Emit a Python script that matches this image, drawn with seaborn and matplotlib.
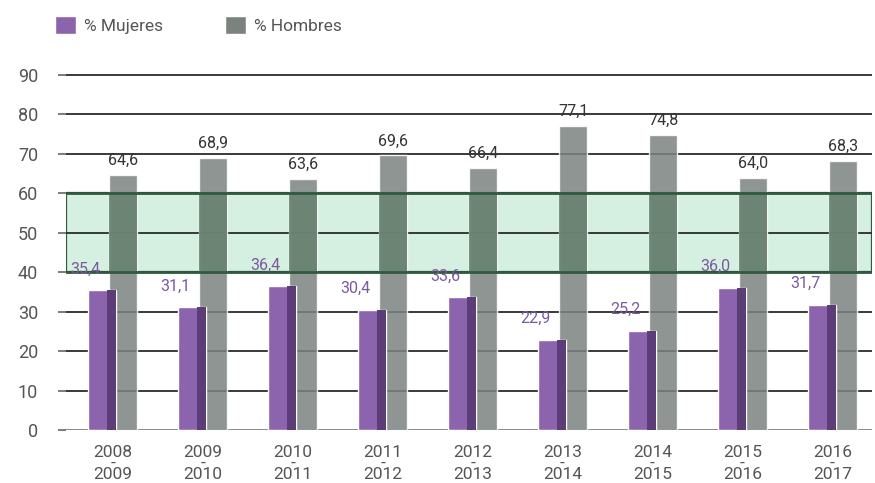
import pandas as pd
import seaborn as sns
import matplotlib.pyplot as plt
from matplotlib.patches import Rectangle

# Academic years (first / second year) and percentage of women / men
periodos = ["2008\n-\n2009", "2009\n-\n2010", "2010\n-\n2011", "2011\n-\n2012",
            "2012\n-\n2013", "2013\n-\n2014", "2014\n-\n2015", "2015\n-\n2016",
            "2016\n-\n2017"]
mujeres = [35.4, 31.1, 36.4, 30.4, 33.6, 22.9, 25.2, 36.0, 31.7]
hombres = [64.6, 68.9, 63.6, 69.6, 66.4, 77.1, 74.8, 64.0, 68.3]
series = ["% Mujeres", "% Hombres"]
yticks = [0, 10, 20, 30, 40, 50, 60, 70, 80, 90]
banda = (40, 60)  # balanced-presence zone

PURPLE = "#8c64ad"
PURPLE_DARK = "#5c3d78"
GRAY = "#7b837f"
GRAY_IN_BAND = "#66826f"
MINT = "#d5efe0"
BAND_EDGE = "#2f5a3f"
GRID = "#2a2a2a"
TEXT = "#555555"

df = pd.DataFrame({
    "periodo": periodos * 2,
    "serie": [series[0]] * len(periodos) + [series[1]] * len(periodos),
    "valor": mujeres + hombres,
})

sns.set_theme(style="white")
plt.rcParams["font.family"] = ["Roboto", "DejaVu Sans"]

fig = plt.figure(figsize=(8.75, 4.83), dpi=100)
ax = fig.add_axes([66 / 875, 1 - 430 / 483, (872 - 66) / 875, (430 - 73) / 483])

sns.barplot(data=df, x="periodo", y="valor", hue="serie", hue_order=series,
            palette=[PURPLE, GRAY], width=0.47, saturation=1, errorbar=None,
            ax=ax, zorder=3)

ax.set_ylim(0, 90.5)
ax.set_xlim(-0.52, 8.44)
ax.set_yticks(yticks)
ax.set_xlabel("")
ax.set_ylabel("")
for s in ax.spines.values():
    s.set_visible(False)

# grid lines and the 40-60 band
for y in yticks[1:]:
    ax.axhline(y, color=GRID, lw=1.3, zorder=2)
ax.axhline(0, color="#8a8a8a", lw=1.4, zorder=2)
ax.axhspan(banda[0], banda[1], facecolor=MINT, edgecolor=BAND_EDGE, lw=1.6, zorder=1)

bars_m, bars_h = ax.containers[0], ax.containers[1]

# widen the bars so the pair overlaps slightly
new_w = 0.31
for p in list(bars_m) + list(bars_h):
    c = p.get_x() + p.get_width() / 2
    p.set_width(new_w)
    p.set_x(c - new_w / 2)

for p in bars_h:
    p.set_alpha(0.85)
    p.set_zorder(3)
    over = ax.axhspan(banda[0], banda[1], facecolor=GRAY_IN_BAND, alpha=0.85,
                      lw=0, zorder=3.2)
    over.set_clip_path(p)

for p in bars_m:
    p.set_zorder(4)
    w = p.get_width()
    ax.add_patch(Rectangle((p.get_x() + 0.68 * w, 0), 0.32 * w, p.get_height(),
                           facecolor=PURPLE_DARK, lw=0, zorder=4.1))

# band borders on top
for y in banda:
    ax.axhline(y, color=BAND_EDGE, lw=2.0, zorder=5)

def fmt(v):
    return f"{v:.1f}".replace(".", ",")

for p, v in zip(bars_h, hombres):
    ax.annotate(fmt(v), xy=(p.get_x() + p.get_width() / 2, p.get_height()),
                xytext=(0, 5), textcoords="offset points", ha="center",
                va="bottom", fontsize=11.5, color="#333333", zorder=6)

for p, v in zip(bars_m, mujeres):
    ax.annotate(fmt(v), xy=(p.get_x(), p.get_height()),
                xytext=(-2, 10), textcoords="offset points", ha="center",
                va="bottom", fontsize=11.5, color="#7a5a9e", zorder=6)

ax.tick_params(axis="y", left=True, length=6, width=1.2, color="#666666",
               pad=14, labelsize=13, labelcolor=TEXT)
ax.tick_params(axis="x", bottom=False, length=0, pad=11, labelsize=12.5,
               labelcolor=TEXT)
for lab in ax.get_xticklabels():
    lab.set_linespacing(0.66)

sns.move_legend(ax, loc="upper left", bbox_to_anchor=(55 / 875, 1 - 16 / 483),
                bbox_transform=fig.transFigure, ncol=2, frameon=False,
                title=None, fontsize=12.5, handlelength=1.2, handleheight=1.2,
                handletextpad=0.45, columnspacing=3.6, borderpad=0,
                borderaxespad=0)
leg = ax.get_legend()
for t in leg.get_texts():
    t.set_color(TEXT)
for h in leg.legend_handles:
    h.set_alpha(1)

fig.savefig("out.png", dpi=100)
